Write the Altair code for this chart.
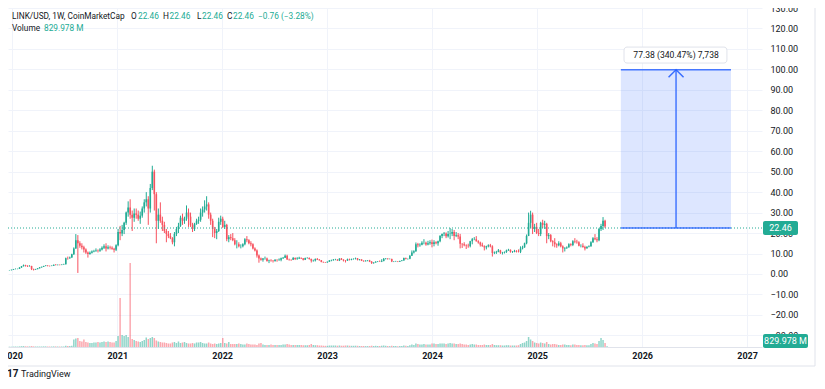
import altair as alt
import pandas as pd

UP = "#22ab94"
DOWN = "#f7525f"
TXT = "#131722"
GRID = "#f0f3fa"
BLUE = "#2962ff"
BORDER = "#e0e3eb"
FONT = "Roboto"

# weekly candles: (open, high, low, close, volume in bn)
y2019 = [(1.80, 1.95, 1.70, 1.85, 0.3)]
y2020 = [
    (1.85, 2.15, 1.75, 2.05, 0.3), (2.05, 2.45, 2.00, 2.35, 0.4), (2.35, 2.70, 2.30, 2.45, 0.5),
    (2.45, 2.60, 2.30, 2.50, 0.4), (2.50, 3.30, 2.45, 3.15, 0.6), (3.15, 3.90, 3.00, 3.75, 0.8),
    (3.75, 4.60, 3.70, 4.30, 0.9), (4.30, 4.50, 3.60, 4.05, 0.7), (4.05, 4.20, 3.40, 3.80, 0.6),
    (3.80, 4.30, 3.60, 3.90, 0.6), (3.90, 4.00, 1.90, 2.40, 0.9), (2.40, 2.60, 1.70, 2.10, 0.6),
    (2.10, 2.50, 2.00, 2.35, 0.5), (2.35, 2.90, 2.30, 2.75, 0.5), (2.75, 3.40, 2.70, 3.20, 0.5),
    (3.20, 3.60, 3.10, 3.50, 0.5), (3.50, 4.00, 3.40, 3.90, 0.6), (3.90, 4.30, 3.80, 4.10, 0.6),
    (4.10, 4.30, 3.70, 3.95, 0.5), (3.95, 4.10, 3.60, 3.90, 0.5), (3.90, 4.20, 3.80, 4.00, 0.5),
    (4.00, 4.60, 3.90, 4.50, 0.6), (4.50, 4.80, 4.20, 4.35, 0.6), (4.35, 4.60, 4.20, 4.50, 0.5),
    (4.50, 4.60, 4.20, 4.40, 0.5), (4.40, 4.70, 4.30, 4.55, 0.5), (4.55, 5.00, 4.50, 4.70, 0.6),
    (4.70, 8.00, 4.70, 7.70, 1.2), (7.70, 8.50, 7.00, 7.65, 1.0), (7.65, 8.50, 7.40, 8.10, 1.0),
    (8.10, 9.90, 7.90, 9.60, 1.3), (9.60, 13.0, 9.30, 12.5, 7.5), (12.5, 19.5, 12.3, 16.5, 8.5),
    (16.5, 19.0, 0.50, 15.0, 9.0), (15.0, 16.0, 12.8, 13.8, 6.0), (13.8, 15.0, 12.0, 13.0, 5.5),
    (13.0, 13.8, 10.5, 12.0, 7.5), (12.0, 12.5, 9.80, 10.5, 5.0), (10.5, 11.0, 8.00, 9.80, 4.5),
    (9.80, 11.0, 9.40, 10.4, 4.0), (10.4, 11.5, 10.0, 11.0, 4.0), (11.0, 11.8, 10.6, 11.2, 4.5),
    (11.2, 12.5, 10.8, 11.5, 4.5), (11.5, 12.0, 10.5, 11.3, 5.0), (11.3, 12.6, 10.8, 12.0, 4.5),
    (12.0, 13.5, 11.5, 12.8, 5.0), (12.8, 14.5, 12.2, 13.5, 5.5), (13.5, 15.0, 11.0, 12.5, 5.0),
    (12.5, 14.0, 12.0, 13.1, 5.5), (13.1, 13.8, 12.0, 12.8, 5.0), (12.8, 13.5, 11.8, 12.3, 4.5),
    (12.3, 12.8, 10.5, 11.8, 4.5), (11.8, 14.5, 11.2, 14.0, 6.0),
]
y2021 = [
    (14.0, 22.0, 13.5, 20.5, 11.0), (20.5, 23.5, 16.5, 19.8, 49.0), (19.8, 24.0, 18.5, 21.5, 12.0),
    (21.5, 25.5, 19.5, 25.0, 11.0), (25.0, 30.5, 24.0, 30.0, 12.0), (30.0, 35.5, 28.0, 32.5, 10.0),
    (32.5, 36.5, 27.0, 29.0, 84.0), (29.0, 31.0, 21.0, 27.5, 8.0), (27.5, 32.0, 25.5, 29.5, 7.0),
    (29.5, 32.0, 27.0, 29.0, 6.0), (29.0, 31.0, 26.0, 27.0, 5.5), (27.0, 30.5, 24.5, 28.5, 5.0),
    (28.5, 33.0, 27.5, 32.0, 6.0), (32.0, 36.5, 30.0, 35.0, 7.0), (35.0, 40.0, 33.0, 36.5, 9.5),
    (36.5, 38.0, 24.0, 32.0, 8.0), (32.0, 44.0, 30.0, 42.0, 9.0), (42.0, 52.9, 41.0, 50.0, 10.0),
    (50.0, 51.0, 31.0, 39.0, 9.0), (39.0, 40.0, 15.0, 26.0, 6.5), (26.0, 32.0, 22.0, 29.0, 5.5),
    (29.0, 35.0, 25.0, 26.0, 5.0), (26.0, 28.0, 21.0, 24.0, 4.5), (24.0, 25.5, 20.0, 21.0, 4.5),
    (21.0, 22.0, 15.5, 19.5, 4.0), (19.5, 21.0, 17.5, 18.5, 3.5), (18.5, 20.0, 17.0, 17.5, 3.5),
    (17.5, 18.0, 14.5, 15.5, 4.5), (15.5, 20.5, 13.5, 19.5, 5.0), (19.5, 23.0, 18.5, 22.0, 4.0),
    (22.0, 25.0, 20.0, 23.5, 5.5), (23.5, 28.5, 23.0, 27.5, 4.0), (27.5, 29.5, 24.0, 26.0, 4.5),
    (26.0, 28.0, 24.5, 27.0, 5.0), (27.0, 33.5, 26.0, 30.0, 4.0), (30.0, 32.0, 23.0, 28.0, 3.5),
    (28.0, 30.0, 23.0, 24.0, 3.5), (24.0, 25.0, 20.5, 22.0, 4.0), (22.0, 25.0, 21.0, 24.5, 3.5),
    (24.5, 27.0, 24.0, 26.0, 4.5), (26.0, 28.0, 24.5, 26.5, 4.5), (26.5, 32.0, 25.5, 30.0, 5.0),
    (30.0, 33.0, 28.0, 31.5, 4.0), (31.5, 36.0, 30.0, 33.0, 3.5), (33.0, 38.0, 31.0, 34.0, 3.5),
    (34.0, 35.0, 27.0, 29.0, 4.5), (29.0, 30.0, 24.0, 26.0, 3.5), (26.0, 27.0, 18.0, 22.0, 3.0),
    (22.0, 23.0, 17.5, 20.0, 3.5), (20.0, 22.0, 17.0, 21.0, 3.0), (21.0, 27.5, 20.5, 25.5, 3.5),
    (25.5, 28.5, 24.0, 27.0, 4.0),
]
y2022 = [
    (27.0, 28.0, 22.5, 23.0, 9.0), (23.0, 26.0, 22.0, 24.0, 4.0), (24.0, 24.5, 16.0, 17.0, 3.5),
    (17.0, 19.0, 15.5, 18.0, 5.0), (18.0, 19.5, 16.5, 17.5, 3.0), (17.5, 20.0, 16.0, 16.5, 3.0),
    (16.5, 17.5, 14.0, 14.5, 3.0), (14.5, 16.5, 12.5, 14.5, 3.0), (14.5, 15.5, 13.0, 13.5, 3.5),
    (13.5, 14.5, 12.5, 13.5, 3.0), (13.5, 15.0, 13.0, 14.5, 2.5), (14.5, 17.5, 14.0, 17.0, 2.5),
    (17.0, 18.5, 15.5, 16.5, 3.5), (16.5, 17.0, 14.5, 15.0, 3.0), (15.0, 16.0, 13.5, 14.5, 2.5),
    (14.5, 15.0, 12.0, 12.5, 2.5), (12.5, 13.0, 11.0, 11.5, 2.5), (11.5, 12.0, 8.0, 9.0, 2.0),
    (9.0, 9.5, 5.5, 7.5, 3.5), (7.5, 8.0, 6.5, 7.0, 4.0), (7.0, 7.8, 6.0, 7.5, 2.5),
    (7.5, 8.5, 7.0, 7.5, 2.0), (7.5, 8.0, 6.0, 6.3, 2.0), (6.3, 7.0, 5.3, 6.6, 2.0),
    (6.6, 7.2, 6.0, 6.5, 2.5), (6.5, 6.8, 5.6, 6.3, 2.0), (6.3, 7.2, 6.0, 6.9, 2.0),
    (6.9, 7.1, 6.0, 6.8, 2.0), (6.8, 7.6, 6.4, 6.9, 2.0), (6.9, 8.0, 6.2, 7.7, 2.0),
    (7.7, 8.3, 7.3, 7.9, 2.5), (7.9, 9.5, 7.8, 8.9, 2.5), (8.9, 9.4, 6.9, 7.1, 3.0),
    (7.1, 7.5, 6.5, 7.0, 2.5), (7.0, 7.2, 6.4, 6.9, 2.0), (6.9, 8.3, 6.8, 7.8, 2.0),
    (7.8, 8.1, 6.8, 7.3, 2.0), (7.3, 8.2, 6.9, 7.6, 2.0), (7.6, 8.4, 7.3, 7.9, 2.0),
    (7.9, 8.0, 7.3, 7.6, 2.0), (7.6, 7.8, 6.6, 6.9, 1.8), (6.9, 8.0, 6.8, 7.8, 1.8),
    (7.8, 8.2, 7.5, 7.8, 1.8), (7.8, 8.1, 7.0, 7.3, 2.0), (7.3, 7.5, 5.6, 6.5, 3.0),
    (6.5, 7.0, 6.0, 6.6, 2.0), (6.6, 7.6, 6.1, 7.3, 1.8), (7.3, 7.8, 6.8, 7.0, 1.8),
    (7.0, 7.3, 6.5, 6.7, 1.5), (6.7, 6.8, 5.7, 5.9, 1.5), (5.9, 6.0, 5.5, 5.7, 1.3),
    (5.7, 5.8, 5.4, 5.6, 1.2),
]
y2023 = [
    (5.6, 6.1, 5.5, 6.0, 1.2), (6.0, 6.8, 5.9, 6.6, 1.5), (6.6, 7.0, 6.2, 6.7, 1.5),
    (6.7, 7.3, 6.5, 7.0, 1.5), (7.0, 7.4, 6.7, 7.0, 1.5), (7.0, 7.2, 6.4, 6.6, 1.3),
    (6.6, 7.7, 6.3, 7.5, 1.5), (7.5, 7.8, 6.8, 7.0, 1.3), (7.0, 7.2, 6.1, 6.6, 1.3),
    (6.6, 6.8, 5.6, 6.5, 1.5), (6.5, 7.5, 6.4, 7.2, 1.5), (7.2, 7.5, 6.6, 7.0, 1.3),
    (7.0, 7.5, 6.7, 7.3, 1.2), (7.3, 7.6, 7.0, 7.4, 1.2), (7.4, 8.0, 7.1, 7.6, 1.3),
    (7.6, 7.8, 6.6, 6.9, 1.2), (6.9, 7.3, 6.6, 7.1, 1.0), (7.1, 7.2, 6.3, 6.5, 1.0),
    (6.5, 6.6, 6.0, 6.2, 1.0), (6.2, 6.7, 6.1, 6.5, 0.9), (6.5, 6.8, 6.2, 6.6, 0.9),
    (6.6, 6.9, 5.8, 6.0, 1.0), (6.0, 6.3, 4.9, 5.3, 1.3), (5.3, 5.7, 5.0, 5.6, 1.0),
    (5.6, 6.2, 5.5, 6.0, 1.2), (6.0, 6.3, 5.8, 6.1, 1.0), (6.1, 6.6, 5.9, 6.0, 1.0),
    (6.0, 7.2, 5.8, 6.3, 1.3), (6.3, 7.8, 6.2, 7.4, 1.5), (7.4, 7.8, 7.1, 7.5, 1.2),
    (7.5, 7.7, 7.0, 7.3, 1.0), (7.3, 7.6, 7.1, 7.3, 0.9), (7.3, 7.5, 5.8, 6.1, 1.2),
    (6.1, 6.3, 5.8, 6.1, 0.9), (6.1, 6.4, 5.9, 6.1, 0.9), (6.1, 6.3, 5.8, 6.0, 0.8),
    (6.0, 6.5, 5.9, 6.3, 0.9), (6.3, 6.8, 6.2, 6.6, 1.0), (6.6, 8.0, 6.5, 7.8, 1.5),
    (7.8, 8.0, 7.1, 7.4, 1.2), (7.4, 7.6, 7.0, 7.4, 1.0), (7.4, 9.2, 7.2, 8.9, 1.8),
    (8.9, 11.5, 8.8, 10.5, 2.5), (10.5, 11.6, 10.0, 11.1, 2.0), (11.1, 15.4, 10.8, 14.5, 3.5),
    (14.5, 15.2, 13.0, 14.0, 3.0), (14.0, 15.0, 13.3, 14.3, 2.5), (14.3, 16.0, 14.0, 15.2, 2.5),
    (15.2, 17.0, 14.5, 15.2, 3.0), (15.2, 15.8, 13.8, 14.4, 2.5), (14.4, 16.2, 14.0, 15.0, 2.5),
    (15.0, 16.5, 14.3, 15.5, 2.5),
]
y2024 = [
    (15.5, 16.8, 13.0, 14.7, 3.5), (14.7, 16.5, 13.5, 15.5, 3.5), (15.5, 16.0, 14.5, 15.0, 3.0),
    (15.0, 16.3, 13.8, 16.0, 3.0), (16.0, 19.0, 15.5, 18.5, 3.5), (18.5, 19.8, 17.5, 19.5, 3.5),
    (19.5, 20.5, 18.5, 19.8, 3.5), (19.8, 20.3, 17.5, 18.4, 3.0), (18.4, 21.0, 17.8, 19.5, 3.5),
    (19.5, 22.5, 17.0, 19.6, 4.0), (19.6, 22.0, 18.5, 20.5, 3.5), (20.5, 21.5, 16.5, 18.5, 3.5),
    (18.5, 20.5, 18.0, 18.9, 3.0), (18.9, 20.0, 17.0, 18.3, 3.0), (18.3, 19.6, 12.5, 14.8, 3.5),
    (14.8, 15.0, 12.7, 14.5, 3.0), (14.5, 15.5, 13.5, 14.0, 2.5), (14.0, 14.5, 12.2, 13.8, 2.5),
    (13.8, 14.8, 12.8, 13.6, 2.0), (13.6, 16.2, 13.0, 16.0, 2.5), (16.0, 17.6, 14.5, 17.0, 3.0),
    (17.0, 18.0, 16.5, 17.0, 2.5), (17.0, 18.5, 15.8, 16.0, 2.5), (16.0, 16.5, 14.8, 15.4, 2.0),
    (15.4, 15.8, 13.4, 14.3, 2.0), (14.3, 15.3, 13.3, 13.6, 2.0), (13.6, 14.0, 11.5, 13.0, 2.5),
    (13.0, 13.8, 12.0, 13.5, 2.0), (13.5, 14.5, 13.0, 14.0, 2.0), (14.0, 14.7, 13.0, 13.5, 2.0),
    (13.5, 14.0, 8.5, 10.3, 3.0), (10.3, 11.0, 9.7, 10.5, 2.0), (10.5, 11.3, 9.8, 10.8, 1.8),
    (10.8, 12.2, 10.6, 11.5, 1.8), (11.5, 11.8, 9.8, 10.4, 1.8), (10.4, 10.8, 9.5, 10.5, 1.5),
    (10.5, 11.0, 10.0, 10.7, 1.5), (10.7, 11.9, 10.3, 11.5, 1.8), (11.5, 12.3, 11.3, 11.8, 1.8),
    (11.8, 12.0, 10.4, 10.8, 1.5), (10.8, 11.2, 10.3, 10.8, 1.5), (10.8, 11.8, 10.6, 11.3, 1.5),
    (11.3, 11.6, 10.5, 11.0, 1.5), (11.0, 12.0, 10.5, 10.9, 1.8), (10.9, 13.5, 10.2, 12.5, 3.0),
    (12.5, 13.8, 12.0, 13.0, 4.0), (13.0, 15.3, 12.8, 15.0, 4.5), (15.0, 19.3, 14.5, 18.6, 6.0),
    (18.6, 30.0, 18.5, 25.0, 10.0), (25.0, 30.9, 22.5, 29.0, 7.5), (29.0, 30.0, 19.5, 22.0, 6.0),
    (22.0, 24.5, 20.5, 23.0, 4.5),
]
y2025 = [
    (23.0, 25.0, 19.5, 20.0, 4.0), (20.0, 22.0, 18.5, 19.5, 3.5), (19.5, 25.5, 18.5, 25.0, 4.5),
    (25.0, 26.5, 22.5, 24.0, 4.0), (24.0, 26.0, 22.0, 24.5, 3.5), (24.5, 25.0, 15.0, 18.5, 5.0),
    (18.5, 20.0, 17.0, 19.0, 3.0), (19.0, 19.5, 15.5, 16.0, 2.5), (16.0, 16.5, 13.5, 15.5, 3.0),
    (15.5, 17.5, 13.0, 14.5, 3.0), (14.5, 15.0, 12.8, 14.0, 2.5), (14.0, 16.0, 13.5, 15.0, 2.0),
    (15.0, 15.7, 13.0, 13.5, 2.0), (13.5, 14.0, 10.5, 12.5, 2.5), (12.5, 13.0, 11.0, 12.8, 2.5),
    (12.8, 13.5, 12.2, 13.0, 2.0), (13.0, 15.0, 12.8, 14.5, 2.0), (14.5, 15.0, 13.5, 14.2, 1.8),
    (14.2, 16.5, 13.6, 16.0, 2.5), (16.0, 17.5, 15.0, 15.8, 2.5), (15.8, 16.7, 14.8, 15.5, 2.0),
    (15.5, 16.0, 13.5, 13.8, 2.0), (13.8, 14.5, 13.0, 13.8, 1.8), (13.8, 15.0, 12.8, 13.2, 1.8),
    (13.2, 13.8, 11.5, 12.5, 2.0), (12.5, 13.5, 12.5, 13.3, 1.8), (13.3, 14.0, 13.0, 13.5, 1.8),
    (13.5, 16.0, 13.3, 15.5, 3.0), (15.5, 18.0, 15.2, 17.5, 4.0), (17.5, 19.5, 16.5, 17.0, 3.5),
    (17.0, 18.0, 15.5, 16.5, 3.0), (16.5, 22.5, 16.0, 22.0, 6.0), (22.0, 24.5, 21.0, 23.5, 9.0),
    (23.5, 27.8, 21.5, 26.0, 7.0), (26.0, 26.5, 22.5, 23.22, 4.0), (22.46, 22.46, 22.46, 22.46, 0.83),
]

LAST = 22.46
TARGET = 99.84
BOX_START, BOX_END, BOX_MID = "2025-10-19", "2026-11-06", "2026-04-29"
LAB_START, LAB_END = "2025-10-30", "2026-10-23"
LAB_PRICE = 107.0
RANGE_TEXT = "77.38 (340.47%) 7,738"
HEADER_TITLE = "LINK/USD, 1W, CoinMarketCap"
OHLC = ["O", "22.46", "H", "22.46", "L", "22.46", "C", "22.46"]
CHANGE = "\u22120.76 (\u22123.28%)"
VOL_TEXT = "829.978 M"
YEARS = list(range(2020, 2028))
PRICE_TICKS = list(range(-30, 131, 10))

rows = y2019 + y2020 + y2021 + y2022 + y2023 + y2024 + y2025
df = pd.DataFrame(rows, columns=["open", "high", "low", "close", "volume"])
df["date"] = pd.date_range("2019-12-23", periods=len(df), freq="7D").strftime("%Y-%m-%d")

W, H = 754, 339
XS = alt.Scale(type="utc", padding=0, nice=False,
               domain=[alt.DateTime(year=2019, month=12, date=18, utc=True),
                       alt.DateTime(year=2027, month=2, date=22, utc=True)])
XA = alt.Axis(values=[alt.DateTime(year=y, month=1, date=1, utc=True) for y in YEARS],
              format="%Y", labelFlush=False, labelOverlap=False, ticks=False, domain=True,
              domainColor=BORDER, grid=True, gridColor=GRID, labelFontSize=9, labelFont=FONT,
              labelFontWeight="bold", labelColor=TXT, labelPadding=4, title=None)
YS = alt.Scale(domain=[-35.7, 130], nice=False, zero=False, padding=0)
YA = alt.Axis(orient="right", values=PRICE_TICKS, format=".2f", domain=False, ticks=False,
              labelPadding=8, labelFontSize=9, labelFont=FONT, labelColor=TXT, grid=True,
              gridColor=GRID, labelFlush=False, labelOverlap=False, labelAlign="left", title=None)


def X(field="date"):
    return alt.X(f"{field}:T", scale=XS, axis=XA, title=None)


def Y(field):
    return alt.Y(f"{field}:Q", scale=YS, axis=YA, title=None)


COLOR = alt.condition("datum.close >= datum.open", alt.value(UP), alt.value(DOWN))

base = alt.Chart(df)
volume = base.mark_bar(width=1.5, opacity=0.5).encode(
    x=X(), y=alt.Y("volume:Q", scale=alt.Scale(domain=[0, H], nice=False, zero=True, padding=0), axis=None),
    color=COLOR)
wicks = base.mark_rule(strokeWidth=1).encode(x=X(), y=Y("low"), y2="high:Q", color=COLOR)
bodies = base.mark_bar(width=1.6).encode(x=X(), y=Y("open"), y2="close:Q", color=COLOR)

last_df = pd.DataFrame({"price": [LAST], "lo": [LAST - 3.42], "hi": [LAST + 3.42]})
last_line = alt.Chart(last_df).mark_rule(color=UP, strokeDash=[1, 2], strokeWidth=1).encode(y=Y("price"))

box_df = pd.DataFrame({"date": [BOX_START], "date2": [BOX_END], "lo": [LAST], "hi": [TARGET]})
box = alt.Chart(box_df).mark_rect(color=BLUE, opacity=0.16).encode(x=X(), x2="date2:T", y=Y("lo"), y2="hi:Q")
box_top = alt.Chart(box_df).mark_rule(color=BLUE, strokeWidth=1.5, opacity=0.85).encode(x=X(), x2="date2:T", y=Y("hi"))
box_bot = alt.Chart(box_df).mark_rule(color=BLUE, strokeWidth=1.5, opacity=0.85).encode(x=X(), x2="date2:T", y=Y("lo"))

mid_df = pd.DataFrame({"date": [BOX_MID], "lo": [LAST], "hi": [TARGET]})
arrow = alt.Chart(mid_df).mark_rule(color=BLUE, strokeWidth=1.5, opacity=0.85).encode(x=X(), y=Y("lo"), y2="hi:Q")
head = alt.Chart(mid_df).mark_point(shape="M-1,1L0,0L1,1", filled=False, size=225, color=BLUE,
                                    strokeWidth=1.5, opacity=0.9).encode(x=X(), y=Y("hi"))

lab_df = pd.DataFrame({"date": [LAB_START], "date2": [LAB_END], "lo": [LAB_PRICE - 3.9], "hi": [LAB_PRICE + 3.9]})
lab_box = alt.Chart(lab_df).mark_rect(fill="white", stroke=BORDER, strokeWidth=1, cornerRadius=3).encode(
    x=X(), x2="date2:T", y=Y("lo"), y2="hi:Q")
lab_txt_df = pd.DataFrame({"date": [BOX_MID], "p": [LAB_PRICE]})
lab_txt = alt.Chart(lab_txt_df).mark_text(text=RANGE_TEXT, fontSize=8.6, font=FONT, color=TXT,
                                          align="center", baseline="middle").encode(x=X(), y=Y("p"))

tag = alt.Chart(last_df).mark_rect(color=UP, cornerRadius=2).encode(
    x=alt.value(755), x2=alt.value(790), y=Y("lo"), y2="hi:Q")
tag_txt = alt.Chart(last_df).mark_text(text=f"{LAST:.2f}", fontSize=9, font=FONT, color="white",
                                       align="center", baseline="middle").encode(x=alt.value(772.5), y=Y("price"))

price = alt.layer(wicks, bodies, last_line, box, box_top, box_bot, arrow, head, lab_box, lab_txt, tag, tag_txt)

ONE = pd.DataFrame({"a": [0]})


def label(text, x, y, color=TXT, size=8.3, weight="normal", align="left"):
    return alt.Chart(ONE).mark_text(text=text, fontSize=size, font=FONT, color=color, fontWeight=weight,
                                    align=align, baseline="middle").encode(x=alt.value(x), y=alt.value(y))


texts = [label(HEADER_TITLE, 4, 9)]
ohlc_x = [123, 130, 155, 161.5, 189, 194, 219, 225]
for i, (t, px) in enumerate(zip(OHLC, ohlc_x)):
    texts.append(label(t, px, 9, TXT if i % 2 == 0 else UP))
texts.append(label(CHANGE, 250, 9, UP))
texts.append(label("Volume", 4, 21))
texts.append(label(VOL_TEXT, 36, 21, UP))

vol_tag = alt.Chart(ONE).mark_rect(color=UP, cornerRadius=2).encode(
    x=alt.value(755), x2=alt.value(800), y=alt.value(326), y2=alt.value(340))
texts.append(vol_tag)
texts.append(label(VOL_TEXT, 777.5, 333, "white", 9, align="center"))

frame_h = alt.Chart(ONE).mark_rule(color=BORDER, strokeWidth=1).encode(
    x=alt.value(-8), x2=alt.value(807), y=alt.value(358))
frame_v = alt.Chart(ONE).mark_rule(color=BORDER, strokeWidth=1).encode(
    x=alt.value(807), y=alt.value(-8), y2=alt.value(358))
texts += [frame_h, frame_v]
texts.append(label("17", -1, 366, TXT, 10, "bold"))
texts.append(label("TradingView", 13, 366, TXT, 9))

chart = alt.layer(volume, price, *texts).resolve_scale(y="independent").properties(
    width=W, height=H, autosize=alt.AutoSizeParams(type="none"),
    padding={"left": 0, "top": 0, "right": 55, "bottom": 32},
).configure_view(stroke=None)

chart.save("out.html", embed_options={"renderer": "svg", "actions": False})
